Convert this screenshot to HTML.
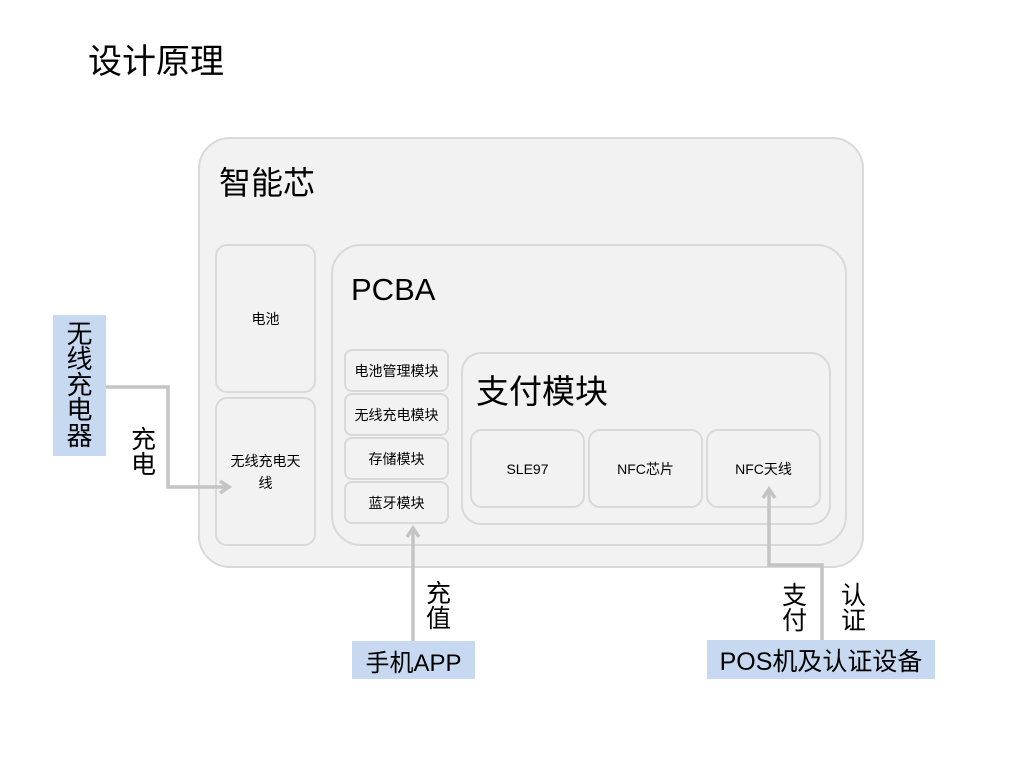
<!DOCTYPE html>
<html><head><meta charset="utf-8">
<style>
html,body{margin:0;padding:0;background:#fff;}
body{width:1024px;height:768px;position:relative;overflow:hidden;font-family:"Liberation Sans","Noto Sans CJK SC",sans-serif;color:#000;}
.a{position:absolute;box-sizing:border-box;}
.box{background:#f2f2f2;border:2px solid #d9d9d9;}
.c{display:flex;align-items:center;justify-content:center;text-align:center;}
.blue{background:#c6d9f1;}
</style></head><body>

<div class="a" style="left:88px;top:42px;font-size:34px;line-height:40px;">设计原理</div>

<div class="a box" style="left:198px;top:137px;width:666px;height:431px;border-radius:32px;"></div>
<div class="a" style="left:219px;top:163px;font-size:32px;line-height:40px;">智能芯</div>

<div class="a box c" style="left:215px;top:244px;width:101px;height:149px;border-radius:12px;font-size:14px;">电池</div>
<div class="a box c" style="left:215px;top:397px;width:101px;height:149px;border-radius:12px;font-size:14px;line-height:22px;padding:0 8px;">无线充电天线</div>

<div class="a box" style="left:331px;top:244px;width:516px;height:302px;border-radius:30px;"></div>
<div class="a" style="left:351px;top:270px;font-size:31px;line-height:40px;font-family:'Liberation Sans',sans-serif;">PCBA</div>

<div class="a box c" style="left:344px;top:349px;width:105px;height:43px;border-radius:8px;font-size:14px;">电池管理模块</div>
<div class="a box c" style="left:344px;top:393px;width:105px;height:43px;border-radius:8px;font-size:14px;">无线充电模块</div>
<div class="a box c" style="left:344px;top:437px;width:105px;height:43px;border-radius:8px;font-size:14px;">存储模块</div>
<div class="a box c" style="left:344px;top:481px;width:105px;height:43px;border-radius:8px;font-size:14px;">蓝牙模块</div>

<div class="a box" style="left:461px;top:352px;width:370px;height:173px;border-radius:20px;"></div>
<div class="a" style="left:476px;top:372px;font-size:33px;line-height:40px;">支付模块</div>

<div class="a box c" style="left:470px;top:429px;width:115px;height:79px;border-radius:12px;font-size:14px;">SLE97</div>
<div class="a box c" style="left:588px;top:429px;width:115px;height:79px;border-radius:12px;font-size:14px;">NFC芯片</div>
<div class="a box c" style="left:706px;top:429px;width:115px;height:79px;border-radius:12px;font-size:14px;">NFC天线</div>

<div class="a blue c" style="left:53px;top:315px;width:53px;height:141px;font-size:26px;line-height:25.5px;"><div style="width:26px;">无线充电器</div></div>
<div class="a blue c" style="left:352px;top:641px;width:123px;height:38px;font-size:24px;">手机APP</div>
<div class="a blue c" style="left:707px;top:640px;width:228px;height:39px;font-size:25px;">POS机及认证设备</div>

<div class="a" style="left:131px;top:428px;width:26px;font-size:25px;line-height:25px;">充电</div>
<div class="a" style="left:426px;top:582px;width:26px;font-size:25px;line-height:25px;">充值</div>
<div class="a" style="left:782px;top:584px;width:26px;font-size:25px;line-height:25px;">支付</div>
<div class="a" style="left:841px;top:584px;width:26px;font-size:25px;line-height:25px;">认证</div>

<svg class="a" style="left:0;top:0;" width="1024" height="768" viewBox="0 0 1024 768">
<g fill="none" stroke="#c4c4c4" stroke-width="3.5" stroke-linejoin="miter">
<polyline points="106,387 168,387 168,487 228,487"/>
<polyline points="220,481 229,487 220,493"/>
<polyline points="413,641 413,528"/>
<polyline points="407,537 413,528 419,537"/>
<polyline points="822,640 822,565 769,565 769,489"/>
<polyline points="763,498 769,489 775,498"/>
</g>
</svg>
</body></html>
